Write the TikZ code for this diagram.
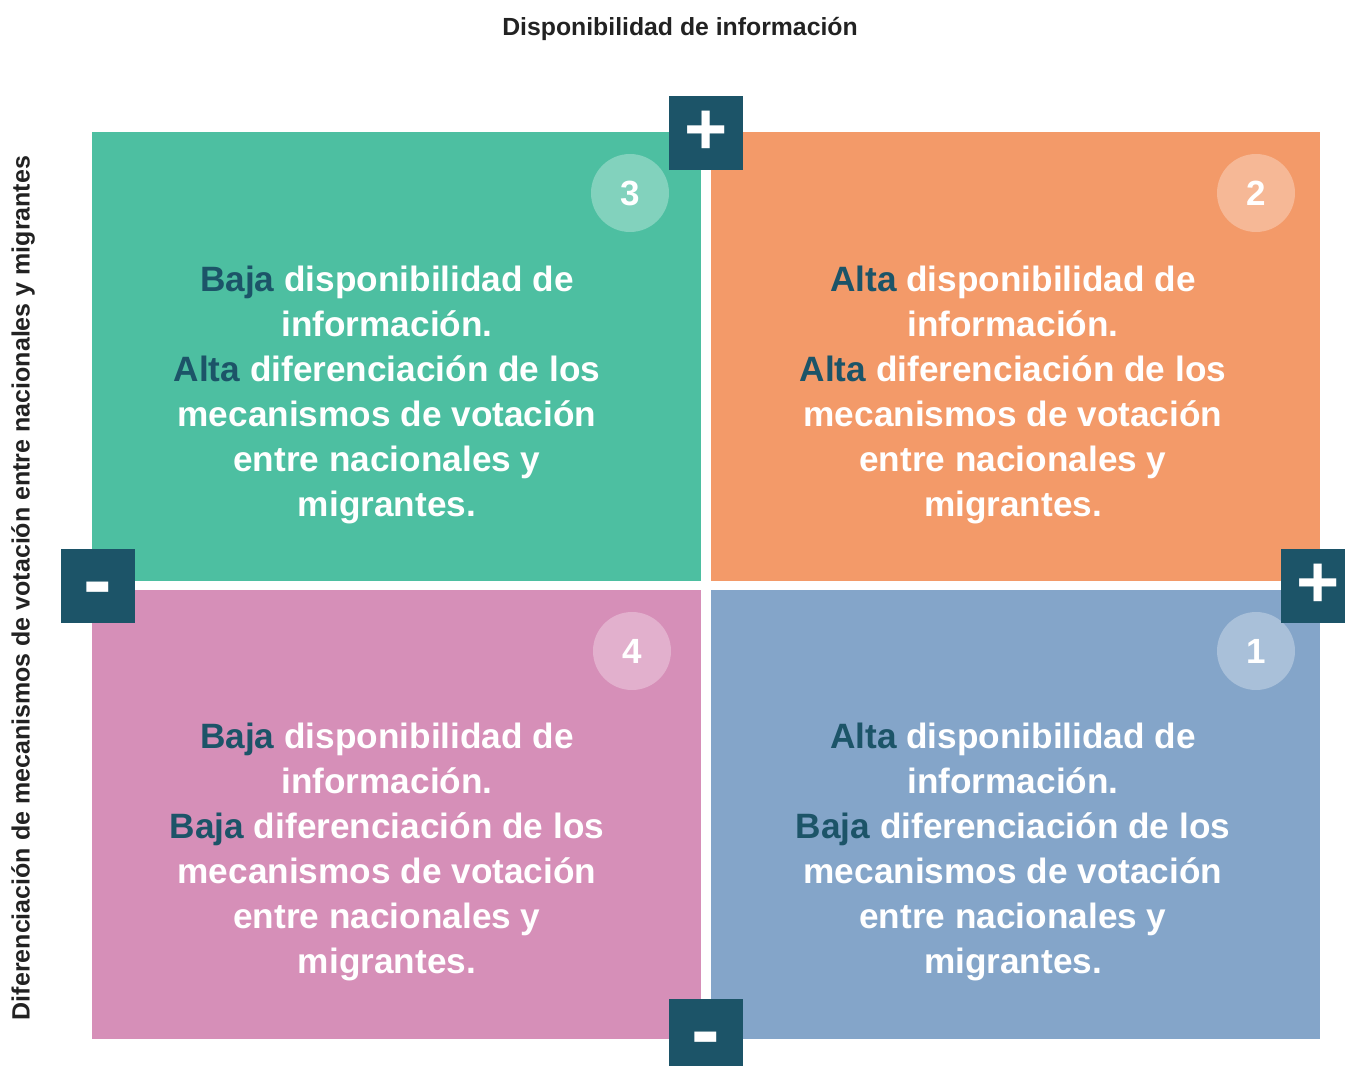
\documentclass[tikz,border=0pt]{standalone}
\usepackage{fontspec}
\setmainfont{Liberation Sans}
\definecolor{verde}{HTML}{4DBFA1}
\definecolor{naranja}{HTML}{F39A69}
\definecolor{rosa}{HTML}{D68FB8}
\definecolor{azul}{HTML}{84A5C9}
\definecolor{oscuro}{HTML}{1C5468}
\definecolor{titulo}{HTML}{222222}
\newcommand{\nivel}[1]{\textcolor{oscuro}{#1}}
\newcommand{\menos}{\raisebox{-23pt}[0pt][0pt]{\fontsize{86}{86}\selectfont -}}
\begin{document}
\begin{tikzpicture}[x=1pt,y=-1pt,
    cuadro/.style={minimum width=609pt,minimum height=449pt,inner sep=0pt},
    texto/.style={text=white,align=center,font=\bfseries\fontsize{35.2}{45}\selectfont},
    numero/.style={circle,fill=white,fill opacity=0.3,text opacity=1,text=white,minimum size=78pt,inner sep=0pt,font=\bfseries\fontsize{35}{35}\selectfont},
    signo/.style={fill=oscuro,minimum size=74pt,inner sep=0pt,text=white,font=\bfseries\fontsize{74}{74}\selectfont}]
  \useasboundingbox (0,0) rectangle (1345,1066);
  % cuadrantes
  \node[cuadro,fill=verde] (q3) at (396.5,356.5) {};
  \node[cuadro,fill=naranja] (q2) at (1015.5,356.5) {};
  \node[cuadro,fill=rosa] (q4) at (396.5,814.5) {};
  \node[cuadro,fill=azul] (q1) at (1015.5,814.5) {};
  % textos
  \node[texto] (t3) at (387,395) {\nivel{Baja} disponibilidad de\\información.\\\nivel{Alta} diferenciación de los\\mecanismos de votación\\entre nacionales y\\migrantes.};
  \node[texto] (t2) at (1013,395) {\nivel{Alta} disponibilidad de\\información.\\\nivel{Alta} diferenciación de los\\mecanismos de votación\\entre nacionales y\\migrantes.};
  \node[texto] (t4) at (387,852) {\nivel{Baja} disponibilidad de\\información.\\\nivel{Baja} diferenciación de los\\mecanismos de votación\\entre nacionales y\\migrantes.};
  \node[texto] (t1) at (1013,852) {\nivel{Alta} disponibilidad de\\información.\\\nivel{Baja} diferenciación de los\\mecanismos de votación\\entre nacionales y\\migrantes.};
  % numeros
  \node[numero] (n3) at (630,193) {3};
  \node[numero] (n2) at (1256,193) {2};
  \node[numero] (n4) at (632,651) {4};
  \node[numero] (n1) at (1256,651) {1};
  % signos
  \node[signo] (arriba) at (706,133) {+};
  \node[signo] (abajo) at (706,1036) {\menos};
  \node[signo] (izq) at (98,586) {\menos};
  \node[signo] (der) at (1318,586) {+};
  % ejes
  \node[text=titulo,font=\bfseries\fontsize{24.8}{25}\selectfont] (ejex) at (680,29) {Disponibilidad de información};
  \node[text=titulo,rotate=90,font=\bfseries\fontsize{25}{25}\selectfont] (ejey) at (23,588) {Diferenciación de mecanismos de votación entre nacionales y migrantes};
\end{tikzpicture}
\end{document}
